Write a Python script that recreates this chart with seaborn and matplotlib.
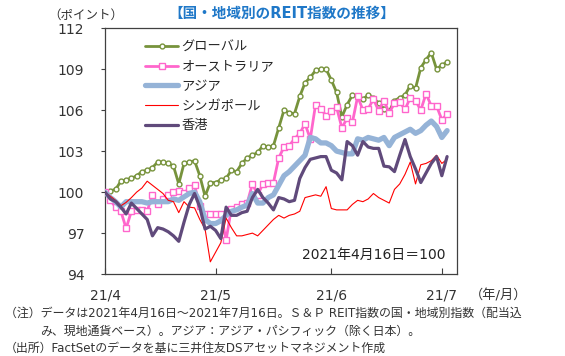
import numpy as np
import pandas as pd
import seaborn as sns
import matplotlib.pyplot as plt

# データ (2021/4/16 = 100, 営業日ベース)
global_idx = [100.0, 100.1, 100.2, 100.8, 100.9, 101.0, 101.2, 101.5, 101.6, 101.8,
              102.2, 102.2, 102.1, 101.9, 100.6, 102.1, 102.2, 102.3, 101.2, 99.7,
              100.7, 100.7, 100.9, 101.0, 101.6, 101.5, 102.1, 102.5, 102.7, 102.9,
              103.4, 103.3, 103.4, 104.7, 106.0, 105.8, 105.75, 107.0, 108.0, 108.4,
              108.9, 109.0, 109.0, 108.2, 107.3, 105.5, 106.4, 107.1, 107.0, 106.8,
              107.1, 106.9, 106.5, 106.1, 105.9, 106.7, 106.9, 107.1, 107.8, 107.6,
              109.1, 109.7, 110.2, 109.0, 109.3, 109.5]
australia = [100.0, 99.4, 98.9, 98.6, 97.35, 98.6, 98.7, 98.7, 98.6, 99.8,
             99.1, 99.5, 99.8, 100.0, 100.1, 99.9, 100.3, 100.5, 99.0, 98.4,
             98.4, 98.4, 98.4, 96.5, 98.8, 98.9, 99.1, 99.2, 100.6, 99.8,
             100.6, 100.7, 100.7, 102.5, 103.3, 103.4, 103.9, 104.3, 105.0, 103.9,
             106.4, 106.1, 105.6, 105.9, 106.2, 104.7, 105.4, 105.1, 107.0, 106.0,
             106.1, 106.8, 105.95, 106.7, 105.8, 106.5, 106.6, 106.05, 106.9, 106.7,
             106.0, 107.2, 106.3, 106.3, 105.3, 105.7]
asia = [100.0, 99.6, 99.3, 98.9, 99.3, 99.3, 99.3, 99.3, 99.2, 99.3,
        99.3, 99.3, 99.3, 99.5, 99.4, 99.65, 99.9, 100.0, 99.3, 98.0,
        97.7, 97.7, 97.9, 98.3, 98.6, 98.7, 98.9, 99.05, 99.9, 99.2,
        99.2, 99.6, 99.8, 100.5, 101.2, 101.5, 101.9, 102.3, 102.7, 104.0,
        103.9, 103.6, 103.6, 103.4, 103.0, 102.9, 102.8, 102.8, 103.9, 103.8,
        104.0, 103.9, 103.8, 104.0, 103.4, 104.0, 104.2, 104.4, 104.6, 104.3,
        104.5, 104.9, 105.2, 104.8, 104.0, 104.5]
singapore = [100.0, 99.7, 99.4, 99.0, 99.25, 99.6, 100.0, 100.3, 100.8, 100.5,
             100.2, 99.9, 99.4, 99.3, 98.5, 99.3, 98.9, 98.85, 98.0, 97.3,
             94.9, 95.6, 96.3, 98.1, 97.4, 96.8, 96.8, 96.9, 97.0, 96.8,
             97.2, 97.6, 98.0, 98.3, 98.1, 98.3, 98.4, 98.6, 99.6, 99.7,
             99.8, 99.7, 100.4, 98.8, 98.7, 98.7, 98.7, 99.1, 99.4, 99.3,
             99.5, 99.9, 99.6, 99.4, 99.2, 100.2, 100.6, 101.3, 102.2, 100.6,
             102.0, 102.1, 102.3, 102.7, 102.1, 102.4]
hongkong = [100.0, 99.5, 99.3, 98.9, 98.4, 99.2, 98.8, 98.4, 98.0, 96.8,
            97.4, 97.3, 97.1, 96.8, 96.4, 97.8, 99.1, 99.9, 98.9, 97.3,
            97.5, 97.2, 96.6, 98.9, 98.3, 98.3, 98.5, 98.6, 99.6, 100.2,
            99.6, 99.2, 98.7, 99.6, 99.5, 99.3, 99.4, 101.0, 101.8, 102.4,
            102.5, 102.6, 102.6, 101.6, 101.4, 100.9, 103.7, 103.4, 102.7, 103.7,
            103.3, 103.2, 103.2, 101.9, 101.85, 101.5, 102.7, 103.85, 102.6, 101.7,
            100.7, 101.4, 102.1, 102.6, 101.2, 102.6]

days = np.arange(len(global_idx))
tick_pos = [0, 21, 43, 64]
tick_labels = ["21/4", "21/5", "21/6", "21/7"]
y_ticks = [94, 97, 100, 103, 106, 109, 112]

sns.set_style("white")
plt.rcParams["font.family"] = ["DejaVu Sans", "Noto Sans CJK JP"]

fig = plt.figure(figsize=(5.65, 3.56), dpi=100)
ax = fig.add_axes([0.186, 0.230, 0.623, 0.691])

sns.lineplot(x=days, y=global_idx, ax=ax, color="#77933C", linewidth=2.0,
             marker="o", markersize=3.5, markerfacecolor="white",
             markeredgecolor="#77933C", markeredgewidth=1.0, label="グローバル", zorder=2)
sns.lineplot(x=days, y=australia, ax=ax, color="#FF66CC", linewidth=2.0,
             marker="s", markersize=4, markerfacecolor="white",
             markeredgecolor="#FF66CC", markeredgewidth=1.0, label="オーストラリア", zorder=3)
sns.lineplot(x=days, y=asia, ax=ax, color="#95B3D7", linewidth=3.8,
             label="アジア", zorder=4)
sns.lineplot(x=days, y=singapore, ax=ax, color="#FF0000", linewidth=0.8,
             label="シンガポール", zorder=5)
sns.lineplot(x=days, y=hongkong, ax=ax, color="#604A7B", linewidth=2.3,
             label="香港", zorder=6)

ax.set_xlim(0, 66.9)
ax.set_ylim(94, 112)
ax.set_yticks(y_ticks)
ax.set_xticks(tick_pos)
ax.set_xticklabels(tick_labels)
ax.tick_params(axis="y", direction="out", length=3, width=0.8, pad=12,
               labelsize=10, left=True, colors="#404040", labelcolor="#333333")
ax.tick_params(axis="x", direction="in", length=4, width=0.8, pad=10.5,
               labelsize=10, bottom=True, colors="#404040", labelcolor="#333333")
ax.set_xlabel("")
ax.set_ylabel("")
for s in ax.spines.values():
    s.set_color("#404040")
    s.set_linewidth(0.9)

ax.legend(loc="upper left", bbox_to_anchor=(0.114, 0.948), frameon=False,
          fontsize=9.5, handlelength=2.5, handletextpad=0.25, labelspacing=0.5,
          borderpad=0, borderaxespad=0)

ax.text(0.966, 0.077, "2021年4月16日＝100", transform=ax.transAxes,
        ha="right", va="center", fontsize=10, color="#222222")

fig.text(282 / 565, 1 - 13 / 356, "【国・地域別のREIT指数の推移】", ha="center", va="center",
         fontsize=10.5, fontweight="bold", color="#1F78C8")
fig.text(48 / 565, 1 - 15 / 356, "（ポイント）", ha="left", va="center",
         fontsize=9, color="#333333")
fig.text(470 / 565, 1 - 296 / 356, "（年/月）", ha="left", va="center",
         fontsize=9.5, color="#333333")

notes = [
    (5, 313, "（注）データは2021年4月16日～2021年7月16日。Ｓ＆Ｐ REIT指数の国・地域別指数（配当込"),
    (40, 331, "み、現地通貨ベース）。アジア：アジア・パシフィック（除く日本）。"),
    (5, 348, "（出所）FactSetのデータを基に三井住友DSアセットマネジメント作成"),
]
for x, y, t in notes:
    fig.text(x / 565, 1 - y / 356, t, ha="left", va="center", fontsize=8.6, color="#333333")

fig.savefig("out.png", dpi=100)
